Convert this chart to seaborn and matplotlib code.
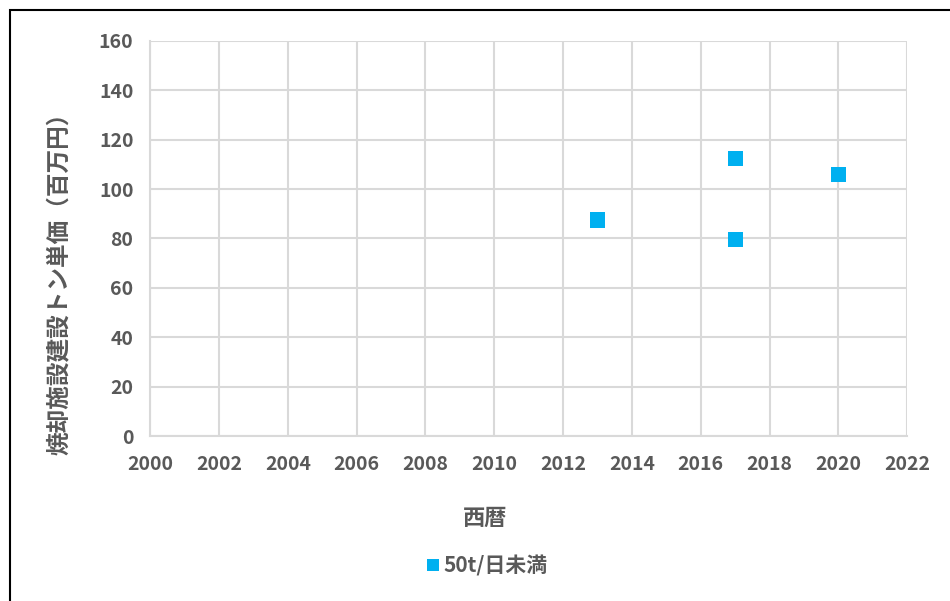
import pandas as pd
import seaborn as sns
import matplotlib.pyplot as plt
from matplotlib.patches import Rectangle

# Data
years = [2013, 2017, 2017, 2020]
unit_cost = [87.5, 112.5, 79.5, 106]
series = ["50t/日未満"] * 4

df = pd.DataFrame({"西暦": years, "単価": unit_cost, "規模": series})

sns.set_style("white")
plt.rcParams['font.family'] = ['Noto Sans CJK JP', 'DejaVu Sans']
gray = "#595959"

fig = plt.figure(figsize=(9.5, 6.01), dpi=100)
ax = fig.add_axes([0.158, 0.2745, 0.797, 0.6575])

sns.scatterplot(data=df, x="西暦", y="単価", hue="規模", palette=["#00B0F0"],
                marker="s", s=120, linewidth=0, ax=ax, zorder=3)

ax.set_xlim(2000, 2022)
ax.set_ylim(0, 160)
ax.set_xticks(range(2000, 2023, 2))
ax.set_yticks(range(0, 161, 20))
ax.grid(True, color="#D9D9D9", linewidth=1.5)
ax.set_axisbelow(True)
for side in ["top", "right"]:
    ax.spines[side].set_visible(False)
for side in ["left", "bottom"]:
    ax.spines[side].set_color("#D9D9D9")
    ax.spines[side].set_linewidth(1.5)

ax.tick_params(axis="both", length=0, labelsize=14, labelcolor=gray)
ax.tick_params(axis="x", pad=14)
ax.tick_params(axis="y", pad=12)
for lab in ax.get_xticklabels() + ax.get_yticklabels():
    lab.set_fontweight("bold")

ax.set_xlabel("西暦", fontsize=16, fontweight="bold", color=gray)
ax.xaxis.set_label_coords(0.4425, -0.18)
ax.set_ylabel("焼却施設建設トン単価（百万円）", fontsize=17, fontweight="bold", color=gray)
ax.yaxis.set_label_coords(-0.105, 0.40)

ax.legend(loc="center", bbox_to_anchor=(0.51, 0.058), bbox_transform=fig.transFigure,
          frameon=False, handletextpad=-0.1, handlelength=1.2, markerscale=0.85,
          prop={"size": 15, "weight": "bold"}, labelcolor=gray)

# chart frame
fig.patches.append(Rectangle((10 / 950, -0.1), 1.2, 1 - 10 / 601 + 0.1,
                             transform=fig.transFigure, fill=False,
                             edgecolor="black", linewidth=1.5))

plt.savefig("out.png", dpi=100)
